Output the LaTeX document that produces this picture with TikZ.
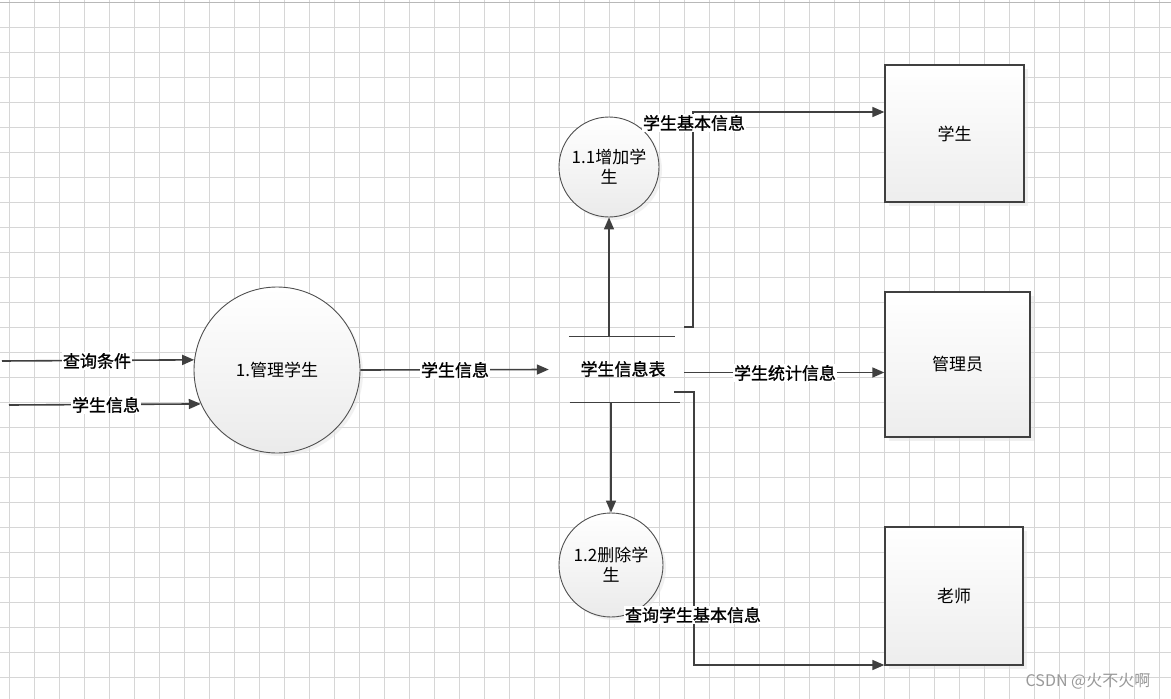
\documentclass[tikz,border=0pt]{standalone}
\usepackage{fontspec}
\setmainfont{Noto Sans CJK SC}
\newfontfamily\labfont{Noto Sans CJK SC}[FakeBold=1.2]
\usetikzlibrary{arrows.meta,shadows,calc}
\definecolor{lineC}{HTML}{404040}
\definecolor{gridC}{HTML}{D6D6D6}
\definecolor{edgeC}{HTML}{505050}
\tikzset{
  proc/.style={circle,draw=edgeC,line width=0.9pt,top color=white,bottom color=black!8,
    drop shadow={shadow xshift=3pt,shadow yshift=-3pt,fill=black!10},
    font=\fontsize{17}{20}\selectfont,align=center,inner sep=0pt},
  ent/.style={rectangle,draw=lineC,line width=1.3pt,top color=white,bottom color=black!7,
    drop shadow={shadow xshift=4pt,shadow yshift=-4pt,fill=black!11},
    font=\fontsize{17}{20}\selectfont},
  flow/.style={draw=lineC,line width=1.6pt,-{Triangle[length=12pt,width=10pt]}},
  plain/.style={draw=lineC,line width=1.6pt},
  lab/.style={fill=white,inner sep=1pt,font=\labfont\fontsize{17}{20}\selectfont},
  storeline/.style={draw=lineC,line width=1.2pt}
}
\begin{document}
\begin{tikzpicture}[x=1pt,y=-1pt]
\useasboundingbox[fill=white] (0,0) rectangle (1171,699);
% grid
\foreach \k in {0,...,46} \draw[gridC,line width=1pt] ({9.3+25*\k},0) -- ({9.3+25*\k},699);
\foreach \k in {0,...,27} \draw[gridC,line width=1pt] (0,{2+25*\k}) -- (1171,{2+25*\k});
\draw[black!28,line width=1pt] (0,2) -- (1171,2);

% processes
\node[proc,minimum size=166pt] (P1) at (277,370) {1.管理学生};
\node[proc,minimum size=100pt] (P11) at (609,167) {1.1增加学\\生};
\node[proc,minimum size=104pt] (P12) at (611,565) {1.2删除学\\生};

% data store
\node[minimum width=135pt,minimum height=65pt,inner sep=0pt] (ds) at (616.5,369.5) {};
\node[font=\labfont\fontsize{17}{20}\selectfont] (dst) at (623,369) {学生信息表};
\draw[storeline] ([xshift=20pt]ds.north west) -- ([xshift=-9pt]ds.north east);
\draw[storeline] ([xshift=21pt]ds.south west) -- ([xshift=-4pt]ds.south east);

% entities
\node[ent,minimum width=139pt,minimum height=137pt] (E1) at (954.5,133.5) {学生};
\node[ent,minimum width=145pt,minimum height=145pt] (E2) at (957.5,364.5) {管理员};
\node[ent,minimum width=138pt,minimum height=138pt] (E3) at (954,596) {老师};

% inputs
\coordinate (in1) at (2,361);
\coordinate (in2) at (9,405);
\draw[flow] (in1) -- (P1.173.8);
\draw[flow] (in2) -- (P1.204.9);
\node[lab] at (97,361) {查询条件};
\node[lab] at (106,405) {学生信息};

% P1 -> store
\draw[flow] (P1.east) -- (ds.west);
\node[lab] at (455,370) {学生信息};

% store -> processes
\draw[flow] (P11.south |- ds.north) -- (P11.south);
\draw[flow] (P12.north |- ds.south) -- (P12.north);

% store -> entities
\draw[flow] ([yshift=-3pt]ds.east) -- ([yshift=-3pt]ds.east -| E2.west);
\node[lab] at (785,373) {学生统计信息};

\coordinate (c1) at (684,327);
\coordinate (k1) at (693,112);
\draw[flow] (c1) -| (k1) -- (k1 -| E1.west);
\node[lab] at (694,123) {学生基本信息};

\coordinate (c2) at (674,392);
\coordinate (k2) at (694,665);
\draw[flow] (c2) -| (k2) -- (k2 -| E3.west);
\node[lab] at (693,615) {查询学生基本信息};

% watermark
\node[text=black!40,font=\fontsize{16}{18}\selectfont] (wm) at (1088,681) {CSDN @火不火啊};
\end{tikzpicture}
\end{document}
